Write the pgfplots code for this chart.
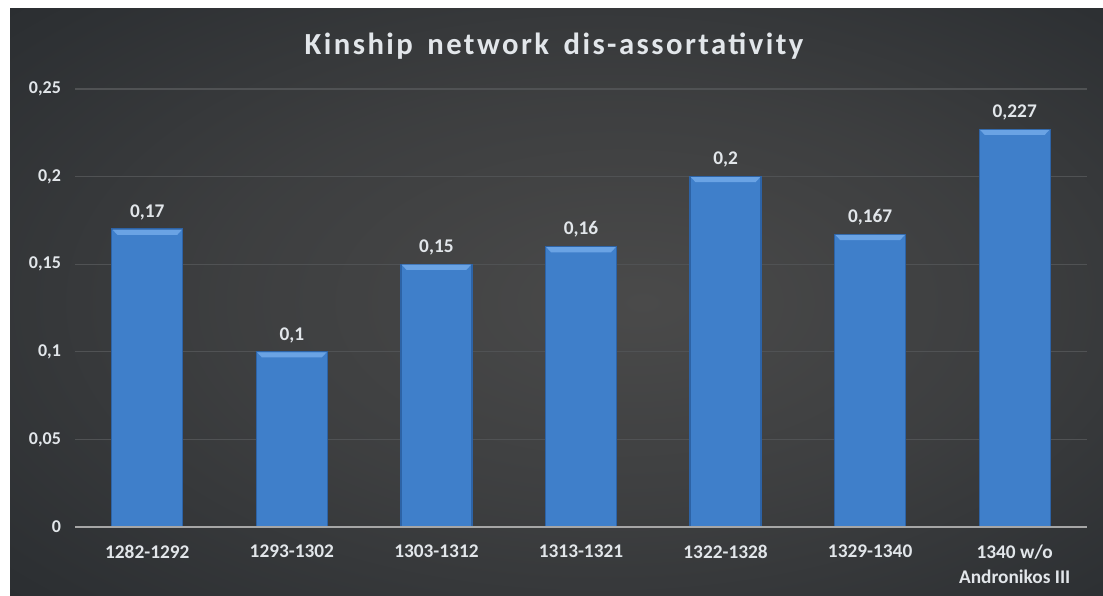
\documentclass[border=0pt]{standalone}
\usepackage{pgfplots}
\pgfplotsset{compat=1.18}
\usepackage{fontspec}
\setmainfont{Carlito}
\newfontfamily\titlefont{Carlito}[LetterSpace=8]
\definecolor{bgedge}{HTML}{1F2225}
\definecolor{bgmid}{HTML}{2D3033}
\definecolor{bgcenter}{HTML}{4A4A4A}
\definecolor{barfill}{HTML}{3F7FCA}
\definecolor{baredge}{HTML}{2D63A6}
\definecolor{barbevel}{HTML}{6AA3E4}
\definecolor{txt}{HTML}{E2E6EA}
\definecolor{gridc}{HTML}{505254}
\pgfdeclareradialshading{bgshade}{\pgfpoint{4bp}{0bp}}{color(0bp)=(bgcenter); color(18bp)=(bgcenter!55!bgmid); color(34bp)=(bgmid); color(50bp)=(bgedge)}
\pgfdeclareplotmark{bevel}{%
  \pgfpathmoveto{\pgfpoint{-26pt}{-0.4pt}}%
  \pgfpathlineto{\pgfpoint{26pt}{-0.4pt}}%
  \pgfpathlineto{\pgfpoint{22.5pt}{-4.2pt}}%
  \pgfpathlineto{\pgfpoint{-22.5pt}{-4.2pt}}%
  \pgfpathclose\pgfusepathqfill}
\begin{document}
\begin{tikzpicture}[x=0.75pt,y=0.75pt]
\fill[white] (0,0) rectangle (1103,596);
\shade[shading=bgshade] (10,0) rectangle (1103,587);
\node[text=txt,font=\titlefont\bfseries\fontsize{23}{27}\selectfont,anchor=base] at (554,541) {Kinship\, network\, dis-assortativity};
\begin{axis}[
  at={(56.25pt,51.75pt)}, anchor=south west,
  scale only axis,
  width=759pt, height=328.5pt,
  xmin=-0.5, xmax=6.5,
  ymin=0, ymax=0.25,
  ytick={0,0.05,0.1,0.15,0.2,0.25},
  yticklabels={0,0{,}05,0{,}1,0{,}15,0{,}2,0{,}25},
  xtick={0,1,2,3,4,5,6},
  xticklabels={1282-1292,1293-1302,1303-1312,1313-1321,1322-1328,1329-1340,{1340 w/o\\Andronikos III}},
  x tick label style={align=center, font=\bfseries\fontsize{14.5}{19}\selectfont, text=txt, yshift=-10pt},
  y tick label style={font=\bfseries\fontsize{13.5}{16}\selectfont, text=txt, xshift=-7pt},
  major tick length=0pt,
  axis line style={draw=none},
  ymajorgrids, grid style={gridc, line width=0.9pt},
  clip=false,
]
\addplot[ybar, bar width=53.25pt, bar shift=0pt, fill=barfill, draw=baredge, line width=1pt,
  nodes near coords, point meta=explicit symbolic,
  every node near coord/.append style={font=\bfseries\fontsize{14.5}{17}\selectfont, text=txt, yshift=3pt}]
  coordinates {(0,0.17)[0,17] (1,0.1)[0,1] (2,0.15)[0,15] (3,0.16)[0,16] (4,0.2)[0,2] (5,0.167)[0,167] (6,0.227)[0,227]};
\addplot[only marks, mark=bevel, mark options={fill=barbevel, draw=none}, forget plot]
  coordinates {(0,0.17) (1,0.1) (2,0.15) (3,0.16) (4,0.2) (5,0.167) (6,0.227)};
\draw[color=black!35!white, line width=1.2pt] (axis cs:-0.5,0) -- (axis cs:6.5,0);
\end{axis}
\end{tikzpicture}
\end{document}
